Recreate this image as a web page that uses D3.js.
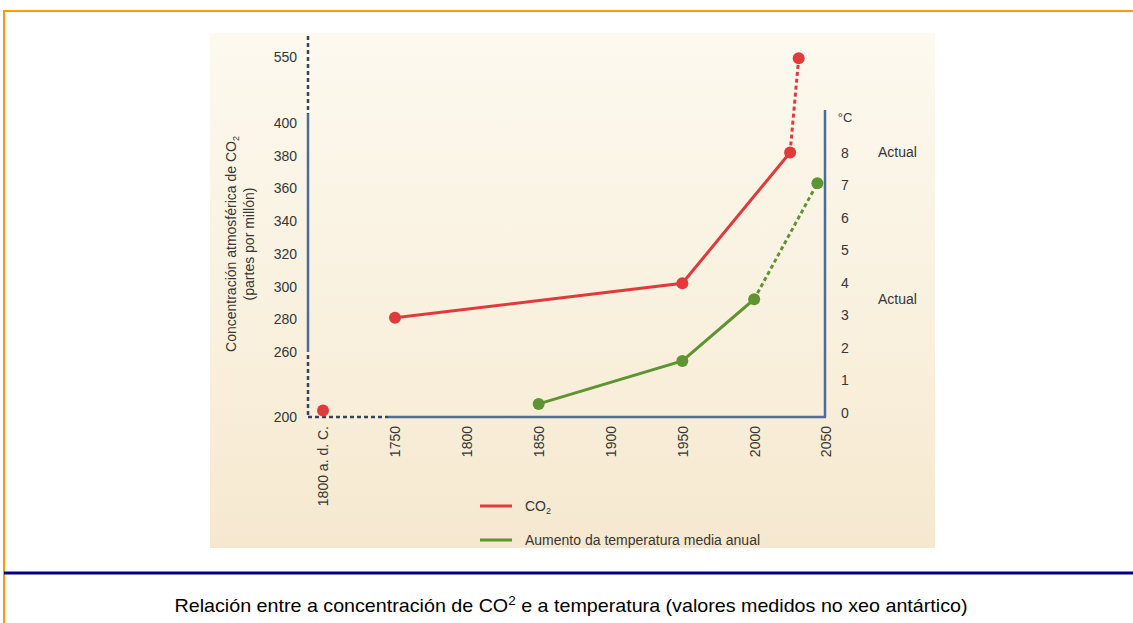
<!DOCTYPE html>
<html>
<head>
<meta charset="utf-8">
<script src="https://cdnjs.cloudflare.com/ajax/libs/d3/7.8.5/d3.min.js"></script>
<style>
  html, body { margin: 0; padding: 0; background: #ffffff; }
  svg { display: block; }
</style>
</head>
<body>
<svg id="chart" width="1133" height="623"></svg>
<script>
// ---- data ----
const co2Years  = [-1800, 1750, 1950, 2025, 2031];
const co2Values = [206, 281, 302, 382, 547];
const tempYears  = [1850, 1950, 2000, 2044];
const tempValues = [0.28, 1.6, 3.5, 7.07];
const xTickValues = [-1800, 1750, 1800, 1850, 1900, 1950, 2000, 2050];
const xTickLabels = ["1800 a. d. C.", "1750", "1800", "1850", "1900", "1950", "2000", "2050"];
const yLeftTicks  = [200, 260, 280, 300, 320, 340, 360, 380, 400, 550];
const yRightTicks = [0, 1, 2, 3, 4, 5, 6, 7, 8];
const legendLabels = ["CO2", "Aumento da temperatura media anual"];
const captionText = ["Relación entre a concentración de CO", "2", " e a temperatura (valores medidos no xeo antártico)"];

// ---- layout ----
const svg = d3.select("#chart");
const FONT = "'Liberation Sans', Arial, sans-serif";
const RED = "#e03a3c", GREEN = "#5f9433";
const AXIS_SOLID = "#4f6c98", AXIS_DASH = "#36455f", TXT = "#363636";

const x = d3.scaleLinear().domain([-1800, 1750, 2050]).range([323, 395, 826]);
const yL = d3.scaleLinear().domain([200, 260, 400, 550]).range([417, 352, 123, 57]);
const yR = d3.scaleLinear().domain([0, 8]).range([413, 153]);

const axisX = 308, axisR = 825, axisB = 417;

// frame
svg.append("line").attr("x1", 4).attr("x2", 1133).attr("y1", 11).attr("y2", 11)
  .attr("stroke", "#ff9900").attr("stroke-width", 2);
svg.append("line").attr("x1", 4).attr("x2", 4).attr("y1", 10).attr("y2", 623)
  .attr("stroke", "#ff9900").attr("stroke-width", 2);

// paper background
const defs = svg.append("defs");
const grad = defs.append("linearGradient").attr("id", "paper").attr("x1", 0).attr("y1", 0).attr("x2", 0).attr("y2", 1);
grad.append("stop").attr("offset", "0%").attr("stop-color", "#fcf9ef");
grad.append("stop").attr("offset", "60%").attr("stop-color", "#f9f0dd");
grad.append("stop").attr("offset", "100%").attr("stop-color", "#f6e8cf");
svg.append("rect").attr("x", 210).attr("y", 33).attr("width", 725).attr("height", 515).attr("fill", "url(#paper)");

// navy separator
svg.append("line").attr("x1", 4).attr("x2", 1133).attr("y1", 573).attr("y2", 573)
  .attr("stroke", "#000080").attr("stroke-width", 3);

// caption
const cap = svg.append("text").attr("x", 571).attr("y", 612).attr("text-anchor", "middle")
  .attr("font-family", FONT).attr("font-size", 19).attr("fill", "#000")
  .attr("textLength", 793).attr("lengthAdjust", "spacingAndGlyphs");
cap.append("tspan").text(captionText[0]);
cap.append("tspan").attr("dy", -7).attr("font-size", 13).text(captionText[1]);
cap.append("tspan").attr("dy", 7).text(captionText[2]);

// axis lines
const dash = "4,3";
svg.append("line").attr("x1", axisX).attr("x2", axisX).attr("y1", 36).attr("y2", yL(400) - 9)
  .attr("stroke", AXIS_DASH).attr("stroke-width", 2.5).attr("stroke-dasharray", dash);
svg.append("line").attr("x1", axisX).attr("x2", axisX).attr("y1", yL(400) - 9).attr("y2", yL(260))
  .attr("stroke", AXIS_SOLID).attr("stroke-width", 2.5);
svg.append("line").attr("x1", axisX).attr("x2", axisX).attr("y1", yL(260) + 3).attr("y2", axisB)
  .attr("stroke", AXIS_DASH).attr("stroke-width", 2.5).attr("stroke-dasharray", dash);
svg.append("line").attr("x1", axisX).attr("x2", x(1750) - 7).attr("y1", axisB).attr("y2", axisB)
  .attr("stroke", AXIS_DASH).attr("stroke-width", 2.5).attr("stroke-dasharray", dash);
svg.append("line").attr("x1", x(1750) - 7).attr("x2", axisR + 1).attr("y1", axisB).attr("y2", axisB)
  .attr("stroke", AXIS_SOLID).attr("stroke-width", 2.5);
svg.append("line").attr("x1", axisR).attr("x2", axisR).attr("y1", 110).attr("y2", axisB)
  .attr("stroke", AXIS_SOLID).attr("stroke-width", 2.5);

// left axis labels
const gL = svg.append("g").attr("transform", `translate(${axisX},0)`)
  .call(d3.axisLeft(yL).tickValues(yLeftTicks).tickSize(0).tickPadding(11).tickFormat(d3.format("d")));
gL.select(".domain").remove();
gL.selectAll("text").attr("font-family", FONT).attr("font-size", 14).attr("fill", TXT);

// right axis labels
const gR = svg.append("g").attr("transform", `translate(${axisR},0)`)
  .call(d3.axisRight(yR).tickValues(yRightTicks).tickSize(0).tickPadding(20).tickFormat(d3.format("d")));
gR.select(".domain").remove();
gR.selectAll("text").attr("font-family", FONT).attr("font-size", 14).attr("fill", TXT).attr("text-anchor", "middle");
svg.append("text").attr("x", axisR + 20).attr("y", 118).attr("dy", "0.32em").attr("text-anchor", "middle")
  .attr("font-family", FONT).attr("font-size", 13).attr("fill", TXT).text("°C");

// "Actual" labels
svg.append("text").attr("x", 878).attr("y", yL(co2Values[3])).attr("dy", "0.32em")
  .attr("font-family", FONT).attr("font-size", 14).attr("fill", TXT).text("Actual");
svg.append("text").attr("x", 878).attr("y", yR(tempValues[2])).attr("dy", "0.32em")
  .attr("font-family", FONT).attr("font-size", 14).attr("fill", TXT).text("Actual");

// bottom axis labels
const gB = svg.append("g").attr("transform", `translate(0,${axisB})`)
  .call(d3.axisBottom(x).tickValues(xTickValues).tickSize(0).tickPadding(0)
    .tickFormat((d, i) => xTickLabels[i]));
gB.select(".domain").remove();
gB.selectAll("text")
  .attr("font-family", FONT).attr("font-size", 14).attr("fill", TXT)
  .attr("text-anchor", "end").attr("dy", "0.35em").attr("y", 0)
  .attr("transform", "translate(0,9) rotate(-90)").attr("x", 0);

// y title
const title = svg.append("text").attr("transform", `translate(236,244) rotate(-90)`)
  .attr("text-anchor", "middle").attr("font-family", FONT).attr("font-size", 14).attr("fill", TXT);
title.append("tspan").attr("x", 0).attr("y", 0).text("Concentración atmosférica de CO");
title.append("tspan").attr("dy", 3).attr("font-size", 9).text("2");
title.append("tspan").attr("x", 0).attr("y", 18).text("(partes por millón)");

// series
const co2 = co2Years.map((yr, i) => ({ x: yr, y: co2Values[i] }));
const tmp = tempYears.map((yr, i) => ({ x: yr, y: tempValues[i] }));
const lineL = d3.line().x(d => x(d.x)).y(d => yL(d.y));
const lineR = d3.line().x(d => x(d.x)).y(d => yR(d.y));

svg.append("path").attr("d", lineL(co2.slice(1, 4))).attr("fill", "none").attr("stroke", RED).attr("stroke-width", 3);
svg.append("path").attr("d", lineL(co2.slice(3, 5))).attr("fill", "none").attr("stroke", RED).attr("stroke-width", 3).attr("stroke-dasharray", "4,3");
svg.selectAll(".co2pt").data(co2).join("circle").attr("class", "co2pt")
  .attr("cx", d => x(d.x)).attr("cy", d => yL(d.y)).attr("r", 6).attr("fill", RED);

svg.append("path").attr("d", lineR(tmp.slice(0, 3))).attr("fill", "none").attr("stroke", GREEN).attr("stroke-width", 3);
svg.append("path").attr("d", lineR(tmp.slice(2, 4))).attr("fill", "none").attr("stroke", GREEN).attr("stroke-width", 3).attr("stroke-dasharray", "4,3");
svg.selectAll(".tpt").data(tmp).join("circle").attr("class", "tpt")
  .attr("cx", d => x(d.x)).attr("cy", d => yR(d.y)).attr("r", 6).attr("fill", GREEN);

// legend
const legColors = [RED, GREEN];
const legY = [506, 540];
legendLabels.forEach((lab, i) => {
  svg.append("line").attr("x1", 480).attr("x2", 512).attr("y1", legY[i]).attr("y2", legY[i])
    .attr("stroke", legColors[i]).attr("stroke-width", 3);
  const t = svg.append("text").attr("x", 525).attr("y", legY[i]).attr("dy", "0.35em")
    .attr("font-family", FONT).attr("font-size", 14).attr("fill", TXT);
  if (i === 0) {
    t.append("tspan").text("CO");
    t.append("tspan").attr("dy", 3).attr("font-size", 9).text("2");
  } else {
    t.text(lab);
  }
});
</script>
</body>
</html>
